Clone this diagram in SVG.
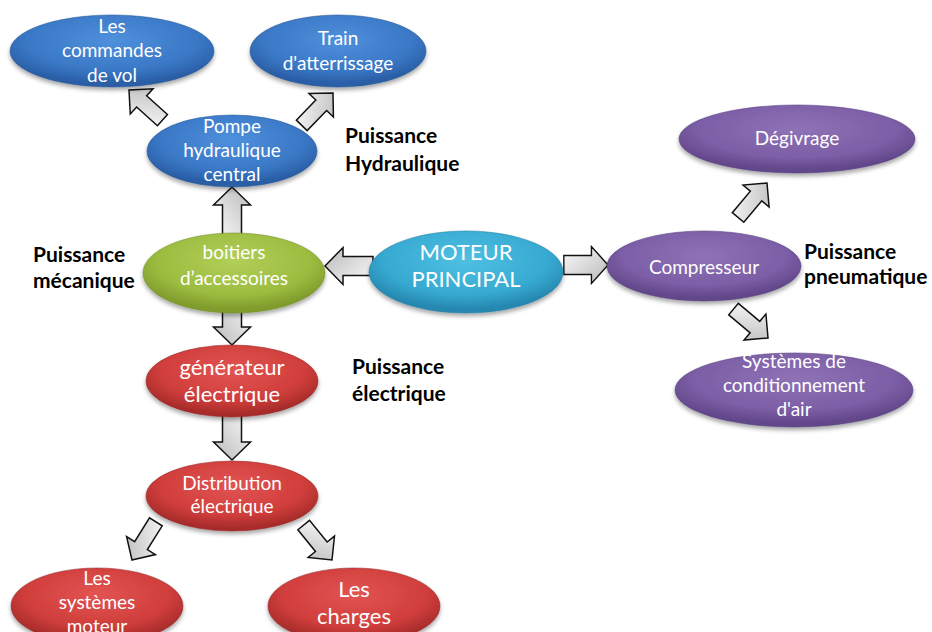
<svg xmlns="http://www.w3.org/2000/svg" width="932" height="632" viewBox="0 0 932 632">
  <defs>
    <radialGradient id="gBlue" cx="50%" cy="35%" r="60%">
      <stop offset="0" stop-color="#4f90dc"/>
      <stop offset="0.7" stop-color="#3a78c6"/>
      <stop offset="1" stop-color="#2a5ea6"/>
    </radialGradient>
    <radialGradient id="gGreen" cx="50%" cy="35%" r="60%">
      <stop offset="0" stop-color="#b2cf58"/>
      <stop offset="0.7" stop-color="#9cbc40"/>
      <stop offset="1" stop-color="#809c2c"/>
    </radialGradient>
    <radialGradient id="gCyan" cx="50%" cy="35%" r="60%">
      <stop offset="0" stop-color="#4fc0e2"/>
      <stop offset="0.7" stop-color="#37aad2"/>
      <stop offset="1" stop-color="#2688b0"/>
    </radialGradient>
    <radialGradient id="gPurple" cx="50%" cy="35%" r="60%">
      <stop offset="0" stop-color="#8f72b6"/>
      <stop offset="0.7" stop-color="#7c5ea6"/>
      <stop offset="1" stop-color="#62478a"/>
    </radialGradient>
    <radialGradient id="gRed" cx="50%" cy="35%" r="60%">
      <stop offset="0" stop-color="#e25452"/>
      <stop offset="0.7" stop-color="#d03e3c"/>
      <stop offset="1" stop-color="#a82c2a"/>
    </radialGradient>
    <linearGradient id="gArrow" x1="0" y1="0" x2="1" y2="1">
      <stop offset="0" stop-color="#fbfbfb"/>
      <stop offset="1" stop-color="#b9b9b9"/>
    </linearGradient>
    <filter id="shadow" x="-10%" y="-10%" width="120%" height="130%">
      <feDropShadow dx="0" dy="3" stdDeviation="2" flood-color="#000" flood-opacity="0.35"/>
    </filter>
    <!-- big block arrow, tip at origin, pointing along +x -->
    <path id="bigArrow" d="M0,0 L-18,-18.5 L-18,-9.5 L-48,-9.5 L-48,9.5 L-18,9.5 L-18,18.5 Z"/>
    <!-- smaller block arrow for the diagonal links -->
    <path id="smallArrow" d="M0,0 L-17,-17 L-17,-7.5 L-45,-7.5 L-45,7.5 L-17,7.5 L-17,17 Z"/>
  </defs>
  <style>
    .arrow { fill: url(#gArrow); stroke: #111; stroke-width: 1.5; stroke-linejoin: miter; }
    .node ellipse { filter: url(#shadow); stroke-width: 1; stroke-opacity: 0.5; }
    .blue ellipse { fill: url(#gBlue); stroke: #1f4f90; }
    .green ellipse { fill: url(#gGreen); stroke: #6c8a20; }
    .cyan ellipse { fill: url(#gCyan); stroke: #1e7ca0; }
    .purple ellipse { fill: url(#gPurple); stroke: #4e3878; }
    .red ellipse { fill: url(#gRed); stroke: #902020; }
    .node text { font-family: Lato, "Liberation Sans", sans-serif; fill: #fff; text-anchor: middle; font-size: 19px; }
    .label { font-family: Lato, "Liberation Sans", sans-serif; font-weight: bold; font-size: 21px; fill: #000; }
  </style>
  <rect width="932" height="632" fill="#fff"/>

  <!-- connectors -->
  <g id="connectors">
    <use href="#bigArrow" class="arrow" transform="translate(325,266) rotate(180)"/>
    <use href="#bigArrow" class="arrow" transform="translate(608,265) scale(0.92,1)"/>
    <use href="#bigArrow" class="arrow" transform="translate(232,187) rotate(-90)"/>
    <use href="#bigArrow" class="arrow" transform="translate(232,345) rotate(90)"/>
    <use href="#bigArrow" class="arrow" transform="translate(232,460) rotate(90)"/>
    <use href="#smallArrow" class="arrow" transform="translate(129,90) rotate(-138)"/>
    <use href="#smallArrow" class="arrow" transform="translate(333,93) rotate(-46)"/>
    <use href="#smallArrow" class="arrow" transform="translate(767,183) rotate(-50)"/>
    <use href="#smallArrow" class="arrow" transform="translate(768,338) rotate(40)"/>
    <use href="#smallArrow" class="arrow" transform="translate(132,560) rotate(122)"/>
    <use href="#smallArrow" class="arrow" transform="translate(332,560) rotate(51)"/>
  </g>

  <!-- hydraulic branch -->
  <g id="commandes-vol" class="node blue">
    <ellipse cx="112" cy="51" rx="102" ry="36"/>
    <text x="112" y="33">Les</text>
    <text x="112" y="57">commandes</text>
    <text x="112" y="82">de vol</text>
  </g>
  <g id="train-atterrissage" class="node blue">
    <ellipse cx="338" cy="51" rx="88" ry="36"/>
    <text x="338" y="45">Train</text>
    <text x="338" y="70">d'atterrissage</text>
  </g>
  <g id="pompe-hydraulique" class="node blue">
    <ellipse cx="232" cy="151" rx="85" ry="36"/>
    <text x="232" y="133">Pompe</text>
    <text x="232" y="157">hydraulique</text>
    <text x="232" y="181">central</text>
  </g>

  <!-- mechanical -->
  <g id="boitiers-accessoires" class="node green">
    <ellipse cx="234" cy="273" rx="91" ry="40"/>
    <text x="234" y="259">boitiers</text>
    <text x="234" y="285">d’accessoires</text>
  </g>

  <!-- engine -->
  <g id="moteur-principal" class="node cyan">
    <ellipse cx="466" cy="272" rx="97" ry="41"/>
    <text x="466" y="260" style="font-size:22px">MOTEUR</text>
    <text x="466" y="287" style="font-size:22px">PRINCIPAL</text>
  </g>

  <!-- pneumatic branch -->
  <g id="compresseur" class="node purple">
    <ellipse cx="704" cy="266" rx="97" ry="35"/>
    <text x="704" y="274">Compresseur</text>
  </g>
  <g id="degivrage" class="node purple">
    <ellipse cx="797" cy="139" rx="118" ry="34"/>
    <text x="797" y="145">Dégivrage</text>
  </g>
  <g id="conditionnement-air" class="node purple">
    <ellipse cx="794" cy="390" rx="119" ry="37"/>
    <text x="794" y="368">Systèmes de</text>
    <text x="794" y="392">conditionnement</text>
    <text x="794" y="416">d'air</text>
  </g>

  <!-- electrical branch -->
  <g id="generateur-electrique" class="node red">
    <ellipse cx="232" cy="381" rx="86" ry="36"/>
    <text x="232" y="375" style="font-size:22px">générateur</text>
    <text x="232" y="402" style="font-size:22px">électrique</text>
  </g>
  <g id="distribution-electrique" class="node red">
    <ellipse cx="232" cy="496" rx="86" ry="35"/>
    <text x="232" y="490">Distribution</text>
    <text x="232" y="513">électrique</text>
  </g>
  <g id="systemes-moteur" class="node red">
    <ellipse cx="97" cy="606" rx="86" ry="38"/>
    <text x="97" y="585">Les</text>
    <text x="97" y="609">systèmes</text>
    <text x="97" y="633">moteur</text>
  </g>
  <g id="charges" class="node red">
    <ellipse cx="354" cy="606" rx="86" ry="38"/>
    <text x="354" y="597" style="font-size:22px">Les</text>
    <text x="354" y="624" style="font-size:22px">charges</text>
  </g>

  <!-- power-type labels -->
  <g id="labels">
    <text class="label" x="345" y="143">Puissance</text>
    <text class="label" x="345" y="171">Hydraulique</text>
    <text class="label" x="33" y="262">Puissance</text>
    <text class="label" x="33" y="288">mécanique</text>
    <text class="label" x="804" y="259">Puissance</text>
    <text class="label" x="804" y="284">pneumatique</text>
    <text class="label" x="352" y="374">Puissance</text>
    <text class="label" x="352" y="401">électrique</text>
  </g>
</svg>
